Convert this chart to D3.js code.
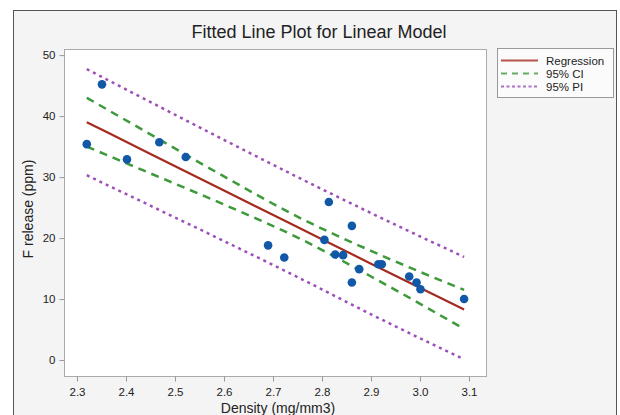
<html>
<head>
  <style>
    body { margin: 0; background: white; font-family: "Liberation Sans", Arial, Helvetica, sans-serif; }
  </style>
</head>
<body>
  <svg id="chart"></svg>
  <script src="https://cdn.jsdelivr.net/npm/d3@7"></script>
  <script>
    // data
    var densities = [2.320, 2.351, 2.402, 2.468, 2.522, 2.690, 2.723, 2.805, 2.814, 2.827,
                     2.843, 2.861, 2.861, 2.876, 2.915, 2.922, 2.978, 2.993, 3.001, 3.090];
    var releases = [35.4, 45.2, 32.9, 35.7, 33.3, 18.8, 16.8, 19.7, 25.9, 17.3,
                    17.2, 22.0, 12.7, 14.9, 15.7, 15.7, 13.7, 12.7, 11.6, 10.0];

    // fitted line and bands, read at a few x positions
    var bandX = [2.32, 2.45, 2.60, 2.76, 2.90, 3.09];
    var fitted = [39.0, 33.8, 27.8, 21.4, 15.8, 8.3];
    var ciUpper = [43.0, 37.0, 30.1, 23.1, 17.9, 11.5];
    var ciLower = [35.0, 30.6, 25.5, 19.7, 13.7, 5.1];
    var piUpper = [47.7, 42.3, 36.1, 29.6, 24.1, 16.9];
    var piLower = [30.3, 25.3, 19.5, 13.2, 7.5, 0.1];

    var xTicks = [2.3, 2.4, 2.5, 2.6, 2.7, 2.8, 2.9, 3.0, 3.1];
    var yTicks = [0, 10, 20, 30, 40, 50];
    var legendNames = ["Regression", "95% CI", "95% PI"];

    var width = 620, height = 415;
    var plot = { left: 64, top: 49, right: 486, bottom: 376 };

    var svg = d3.select("#chart").attr("width", width).attr("height", height);

    // outer frame
    svg.append("rect")
      .attr("x", 13.5).attr("y", 10.5)
      .attr("width", 603).attr("height", 420)
      .attr("fill", "#f4f4f4")
      .attr("stroke", "#555");

    var x = d3.scaleLinear()
      .domain([2.2735, 3.1347])
      .range([plot.left, plot.right]);
    var y = d3.scaleLinear()
      .domain([-2.62, 51])
      .range([plot.bottom, plot.top]);

    // plot area
    svg.append("rect")
      .attr("x", plot.left + 0.5).attr("y", plot.top + 0.5)
      .attr("width", plot.right - plot.left).attr("height", plot.bottom - plot.top)
      .attr("fill", "white")
      .attr("stroke", "#aaa");

    // axes
    var xAxis = svg.append("g")
      .attr("transform", "translate(0," + (plot.bottom + 0.5) + ")")
      .call(d3.axisBottom(x).tickValues(xTicks).tickFormat(d3.format(".1f")).tickSizeOuter(0).tickSize(5).tickPadding(6));
    var yAxis = svg.append("g")
      .attr("transform", "translate(" + (plot.left + 0.5) + ",0)")
      .call(d3.axisLeft(y).tickValues(yTicks).tickSizeOuter(0).tickSize(5).tickPadding(4));
    [xAxis, yAxis].forEach(function (g) {
      g.select(".domain").remove();
      g.selectAll(".tick line").attr("stroke", "#999");
      g.selectAll(".tick text")
        .attr("fill", "#222")
        .attr("font-size", "11.5px")
        .attr("font-family", "'Liberation Sans', Arial, sans-serif");
    });

    // bands
    function bandLine(vals) {
      return d3.line()
        .x(function (d, i) { return x(bandX[i]); })
        .y(function (d) { return y(d); })
        .curve(d3.curveMonotoneX)(vals);
    }

    var lineStyles = [
      { color: "#a52a20", dash: null, width: 2.2 },
      { color: "#3d9a3a", dash: "8,6", width: 2.5 },
      { color: "#9c4fb8", dash: "3,4", width: 2.5 }
    ];

    [piUpper, piLower].forEach(function (vals) {
      svg.append("path").attr("d", bandLine(vals))
        .attr("fill", "none")
        .attr("stroke", lineStyles[2].color)
        .attr("stroke-width", lineStyles[2].width)
        .attr("stroke-dasharray", lineStyles[2].dash);
    });
    [ciUpper, ciLower].forEach(function (vals) {
      svg.append("path").attr("d", bandLine(vals))
        .attr("fill", "none")
        .attr("stroke", lineStyles[1].color)
        .attr("stroke-width", lineStyles[1].width)
        .attr("stroke-dasharray", lineStyles[1].dash);
    });
    svg.append("path").attr("d", bandLine(fitted))
      .attr("fill", "none")
      .attr("stroke", lineStyles[0].color)
      .attr("stroke-width", lineStyles[0].width);

    // points
    svg.append("g").selectAll("circle")
      .data(densities)
      .join("circle")
      .attr("cx", function (d) { return x(d); })
      .attr("cy", function (d, i) { return y(releases[i]); })
      .attr("r", 4.3)
      .attr("fill", "#1158a8");

    // title and labels
    svg.append("text")
      .attr("x", 319).attr("y", 38)
      .attr("text-anchor", "middle")
      .attr("font-size", "18px")
      .attr("fill", "#222")
      .text("Fitted Line Plot for Linear Model");

    svg.append("text")
      .attr("x", 278).attr("y", 413)
      .attr("text-anchor", "middle")
      .attr("font-size", "14px")
      .attr("fill", "#222")
      .text("Density (mg/mm3)");

    svg.append("text")
      .attr("transform", "translate(33," + 209 + ") rotate(-90)")
      .attr("text-anchor", "middle")
      .attr("font-size", "14px")
      .attr("fill", "#222")
      .text("F release (ppm)");

    // legend
    var legend = svg.append("g").attr("transform", "translate(497,48)");
    legend.append("rect")
      .attr("x", 0.5).attr("y", 0.5)
      .attr("width", 116).attr("height", 49)
      .attr("fill", "#fbfbfb")
      .attr("stroke", "#999");
    legendNames.forEach(function (name, i) {
      var ly = 12.5 + i * 13;
      legend.append("line")
        .attr("x1", 4).attr("x2", 41)
        .attr("y1", ly).attr("y2", ly)
        .attr("stroke", lineStyles[i].color)
        .attr("stroke-width", 1.8)
        .attr("stroke-opacity", 0.8)
        .attr("stroke-dasharray", i == 1 ? "6,5" : (i == 2 ? "3,2.5" : null));
      legend.append("text")
        .attr("x", 49).attr("y", ly + 4)
        .attr("font-size", "11.5px")
        .attr("fill", "#222")
        .text(name);
    });
  </script>
</body>
</html>
